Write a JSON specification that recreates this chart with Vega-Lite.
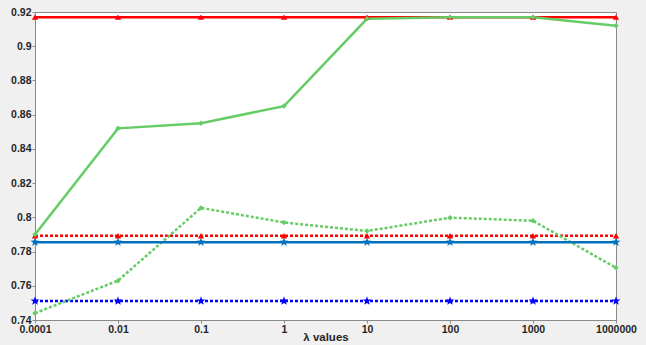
{
  "$schema": "https://vega.github.io/schema/vega-lite/v6.json",
  "width": 581,
  "height": 308,
  "autosize": {"type": "none"},
  "padding": {"left": 35, "top": 12, "right": 30, "bottom": 25},
  "background": "#f0f0f0",
  "config": {
    "view": {"stroke": "#8a8a8a", "fill": "white"},
    "font": "Liberation Sans",
    "axis": {
      "labelFont": "Liberation Sans", "labelFontWeight": "bold", "labelFontSize": 10.5, "labelColor": "#262626",
      "domainColor": "#8a8a8a", "tickColor": "#8a8a8a", "tickSize": 3, "grid": false,
      "titleFont": "Liberation Sans", "titleFontWeight": "bold", "titleFontSize": 11.5, "titleColor": "#262626"
    }
  },
  "data": {"values": [
    {"x": "0.0001", "s": "Uncoupled - Canonical HRF", "v": 0.7855},
    {"x": "0.01", "s": "Uncoupled - Canonical HRF", "v": 0.7855},
    {"x": "0.1", "s": "Uncoupled - Canonical HRF", "v": 0.7855},
    {"x": "1", "s": "Uncoupled - Canonical HRF", "v": 0.7855},
    {"x": "10", "s": "Uncoupled - Canonical HRF", "v": 0.7855},
    {"x": "100", "s": "Uncoupled - Canonical HRF", "v": 0.7855},
    {"x": "1000", "s": "Uncoupled - Canonical HRF", "v": 0.7855},
    {"x": "1000000", "s": "Uncoupled - Canonical HRF", "v": 0.7855},
    {"x": "0.0001", "s": "Hard coupling - Canonical HRF", "v": 0.917},
    {"x": "0.01", "s": "Hard coupling - Canonical HRF", "v": 0.917},
    {"x": "0.1", "s": "Hard coupling - Canonical HRF", "v": 0.917},
    {"x": "1", "s": "Hard coupling - Canonical HRF", "v": 0.917},
    {"x": "10", "s": "Hard coupling - Canonical HRF", "v": 0.917},
    {"x": "100", "s": "Hard coupling - Canonical HRF", "v": 0.917},
    {"x": "1000", "s": "Hard coupling - Canonical HRF", "v": 0.917},
    {"x": "1000000", "s": "Hard coupling - Canonical HRF", "v": 0.917},
    {"x": "0.0001", "s": "Soft coupling - Canonical HRF", "v": 0.79},
    {"x": "0.01", "s": "Soft coupling - Canonical HRF", "v": 0.852},
    {"x": "0.1", "s": "Soft coupling - Canonical HRF", "v": 0.855},
    {"x": "1", "s": "Soft coupling - Canonical HRF", "v": 0.865},
    {"x": "10", "s": "Soft coupling - Canonical HRF", "v": 0.916},
    {"x": "100", "s": "Soft coupling - Canonical HRF", "v": 0.917},
    {"x": "1000", "s": "Soft coupling - Canonical HRF", "v": 0.917},
    {"x": "1000000", "s": "Soft coupling - Canonical HRF", "v": 0.912},
    {"x": "0.0001", "s": "Uncoupled - Different HRFs", "v": 0.7511},
    {"x": "0.01", "s": "Uncoupled - Different HRFs", "v": 0.7511},
    {"x": "0.1", "s": "Uncoupled - Different HRFs", "v": 0.7511},
    {"x": "1", "s": "Uncoupled - Different HRFs", "v": 0.7511},
    {"x": "10", "s": "Uncoupled - Different HRFs", "v": 0.7511},
    {"x": "100", "s": "Uncoupled - Different HRFs", "v": 0.7511},
    {"x": "1000", "s": "Uncoupled - Different HRFs", "v": 0.7511},
    {"x": "1000000", "s": "Uncoupled - Different HRFs", "v": 0.7511},
    {"x": "0.0001", "s": "Hard coupling - Different HRFs", "v": 0.7893},
    {"x": "0.01", "s": "Hard coupling - Different HRFs", "v": 0.7893},
    {"x": "0.1", "s": "Hard coupling - Different HRFs", "v": 0.7893},
    {"x": "1", "s": "Hard coupling - Different HRFs", "v": 0.7893},
    {"x": "10", "s": "Hard coupling - Different HRFs", "v": 0.7893},
    {"x": "100", "s": "Hard coupling - Different HRFs", "v": 0.7893},
    {"x": "1000", "s": "Hard coupling - Different HRFs", "v": 0.7893},
    {"x": "1000000", "s": "Hard coupling - Different HRFs", "v": 0.7893},
    {"x": "0.0001", "s": "Soft coupling - Different HRFs", "v": 0.744},
    {"x": "0.01", "s": "Soft coupling - Different HRFs", "v": 0.763},
    {"x": "0.1", "s": "Soft coupling - Different HRFs", "v": 0.8055},
    {"x": "1", "s": "Soft coupling - Different HRFs", "v": 0.797},
    {"x": "10", "s": "Soft coupling - Different HRFs", "v": 0.792},
    {"x": "100", "s": "Soft coupling - Different HRFs", "v": 0.7998},
    {"x": "1000", "s": "Soft coupling - Different HRFs", "v": 0.798},
    {"x": "1000000", "s": "Soft coupling - Different HRFs", "v": 0.7705}
  ]},
  "encoding": {
    "x": {"field": "x", "type": "ordinal", "sort": ["0.0001","0.01","0.1","1","10","100","1000","1000000"],
          "scale": {"type": "point", "padding": 0},
          "axis": {"orient": "bottom", "labelAngle": 0, "labelPadding": 1, "title": "λ values", "titleY": 11}},
    "y": {"field": "v", "type": "quantitative", "scale": {"domain": [0.74, 0.92], "nice": false, "zero": false},
          "axis": {"orient": "left", "values": [0.74,0.76,0.78,0.8,0.82,0.84,0.86,0.88,0.9,0.92], "format": ".2~f", "labelPadding": 1, "title": null}}
  },
  "layer": [
    {
      "transform": [{"filter": "indexof(datum.s, 'Different') >= 0"}],
      "mark": {"type": "line", "strokeWidth": 2.5, "strokeDash": [3, 2]},
      "encoding": {
        "stroke": {"field": "s", "type": "nominal", "legend": null,
                   "scale": {"domain": ["Uncoupled - Canonical HRF","Hard coupling - Canonical HRF","Soft coupling - Canonical HRF","Uncoupled - Different HRFs","Hard coupling - Different HRFs","Soft coupling - Different HRFs"],
                             "range": ["#0072BD","#FF0000","#66CC66","#0000FF","#FF0000","#66CC66"]}}
      }
    },
    {
      "transform": [{"filter": "datum.s == 'Uncoupled - Canonical HRF' || datum.s == 'Hard coupling - Canonical HRF'"}],
      "mark": {"type": "line", "strokeWidth": 2.5},
      "encoding": {"stroke": {"field": "s", "type": "nominal", "legend": null}}
    },
    {
      "transform": [{"filter": "datum.s == 'Soft coupling - Canonical HRF'"}],
      "mark": {"type": "line", "strokeWidth": 2.5},
      "encoding": {"stroke": {"field": "s", "type": "nominal", "legend": null}}
    },
    {
      "transform": [{"filter": "indexof(datum.s, 'Uncoupled') == 0"}],
      "mark": {"type": "point", "filled": true, "opacity": 1, "size": 90,
               "shape": "M0,-1L0.235,-0.324L0.951,-0.309L0.38,0.124L0.588,0.809L0,0.4L-0.588,0.809L-0.38,0.124L-0.951,-0.309L-0.235,-0.324Z"},
      "encoding": {"fill": {"field": "s", "type": "nominal", "legend": null,
                   "scale": {"domain": ["Uncoupled - Canonical HRF","Hard coupling - Canonical HRF","Soft coupling - Canonical HRF","Uncoupled - Different HRFs","Hard coupling - Different HRFs","Soft coupling - Different HRFs"],
                             "range": ["#0072BD","#FF0000","#66CC66","#0000FF","#FF0000","#66CC66"]}}}
    },
    {
      "transform": [{"filter": "indexof(datum.s, 'Hard') == 0"}],
      "mark": {"type": "point", "filled": true, "opacity": 1, "shape": "triangle-up", "size": 40},
      "encoding": {"fill": {"field": "s", "type": "nominal", "legend": null}}
    },
    {
      "transform": [{"filter": "indexof(datum.s, 'Soft') == 0"}],
      "mark": {"type": "point", "filled": true, "opacity": 1, "shape": "diamond", "size": 30},
      "encoding": {"fill": {"field": "s", "type": "nominal", "legend": null}}
    },
    {
      "transform": [{"filter": "false"}],
      "mark": {"type": "point", "filled": true},
      "encoding": {
        "color": {"field": "s", "type": "nominal",
                  "scale": {"domain": ["Uncoupled - Canonical HRF","Hard coupling - Canonical HRF","Soft coupling - Canonical HRF","Uncoupled - Different HRFs","Hard coupling - Different HRFs","Soft coupling - Different HRFs"],
                            "range": ["#0072BD","#FF0000","#66CC66","#0000FF","#FF0000","#66CC66"]},
                  "legend": {"orient": "none", "legendX": 319, "legendY": 57, "title": null,
                             "fillColor": "white", "strokeColor": "#a0a0a0", "padding": 2,
                             "symbolSize": 144, "symbolOffset": 12, "labelOffset": 15, "rowPadding": 0.5,
                             "symbolStrokeWidth": 0, "symbolOpacity": 1,
                             "labelFont": "Liberation Sans", "labelFontWeight": "bold", "labelFontSize": 11, "labelColor": "black",
                             "labelLimit": 400}},
        "shape": {"field": "s", "type": "nominal",
                  "scale": {"domain": ["Uncoupled - Canonical HRF","Hard coupling - Canonical HRF","Soft coupling - Canonical HRF","Uncoupled - Different HRFs","Hard coupling - Different HRFs","Soft coupling - Different HRFs"],
                            "range": [
                              "M-1.33,-0.17H1.33V0.17H-1.33Z M0,-0.8L0.19,-0.26L0.76,-0.25L0.3,0.1L0.47,0.65L0,0.32L-0.47,0.65L-0.3,0.1L-0.76,-0.25L-0.19,-0.26Z",
                              "M-1.33,-0.17H1.33V0.17H-1.33Z M0,-0.6L0.55,0.4L-0.55,0.4Z",
                              "M-1.33,-0.17H1.33V0.17H-1.33Z M0,-0.5L0.5,0L0,0.5L-0.5,0Z",
                              "M-1.33,-0.17h0.33v0.34h-0.33Z M-0.67,-0.17h0.33v0.34h-0.33Z M0.33,-0.17h0.33v0.34h-0.33Z M1,-0.17h0.33v0.34h-0.33Z M0,-0.8L0.19,-0.26L0.76,-0.25L0.3,0.1L0.47,0.65L0,0.32L-0.47,0.65L-0.3,0.1L-0.76,-0.25L-0.19,-0.26Z",
                              "M-1.33,-0.17h0.33v0.34h-0.33Z M-0.67,-0.17h0.33v0.34h-0.33Z M0.33,-0.17h0.33v0.34h-0.33Z M1,-0.17h0.33v0.34h-0.33Z M0,-0.6L0.55,0.4L-0.55,0.4Z",
                              "M-1.33,-0.17h0.33v0.34h-0.33Z M-0.67,-0.17h0.33v0.34h-0.33Z M0.33,-0.17h0.33v0.34h-0.33Z M1,-0.17h0.33v0.34h-0.33Z M0,-0.5L0.5,0L0,0.5L-0.5,0Z"
                            ]},
                  "legend": {"orient": "none", "legendX": 319, "legendY": 57, "title": null}}
      }
    }
  ]
}
